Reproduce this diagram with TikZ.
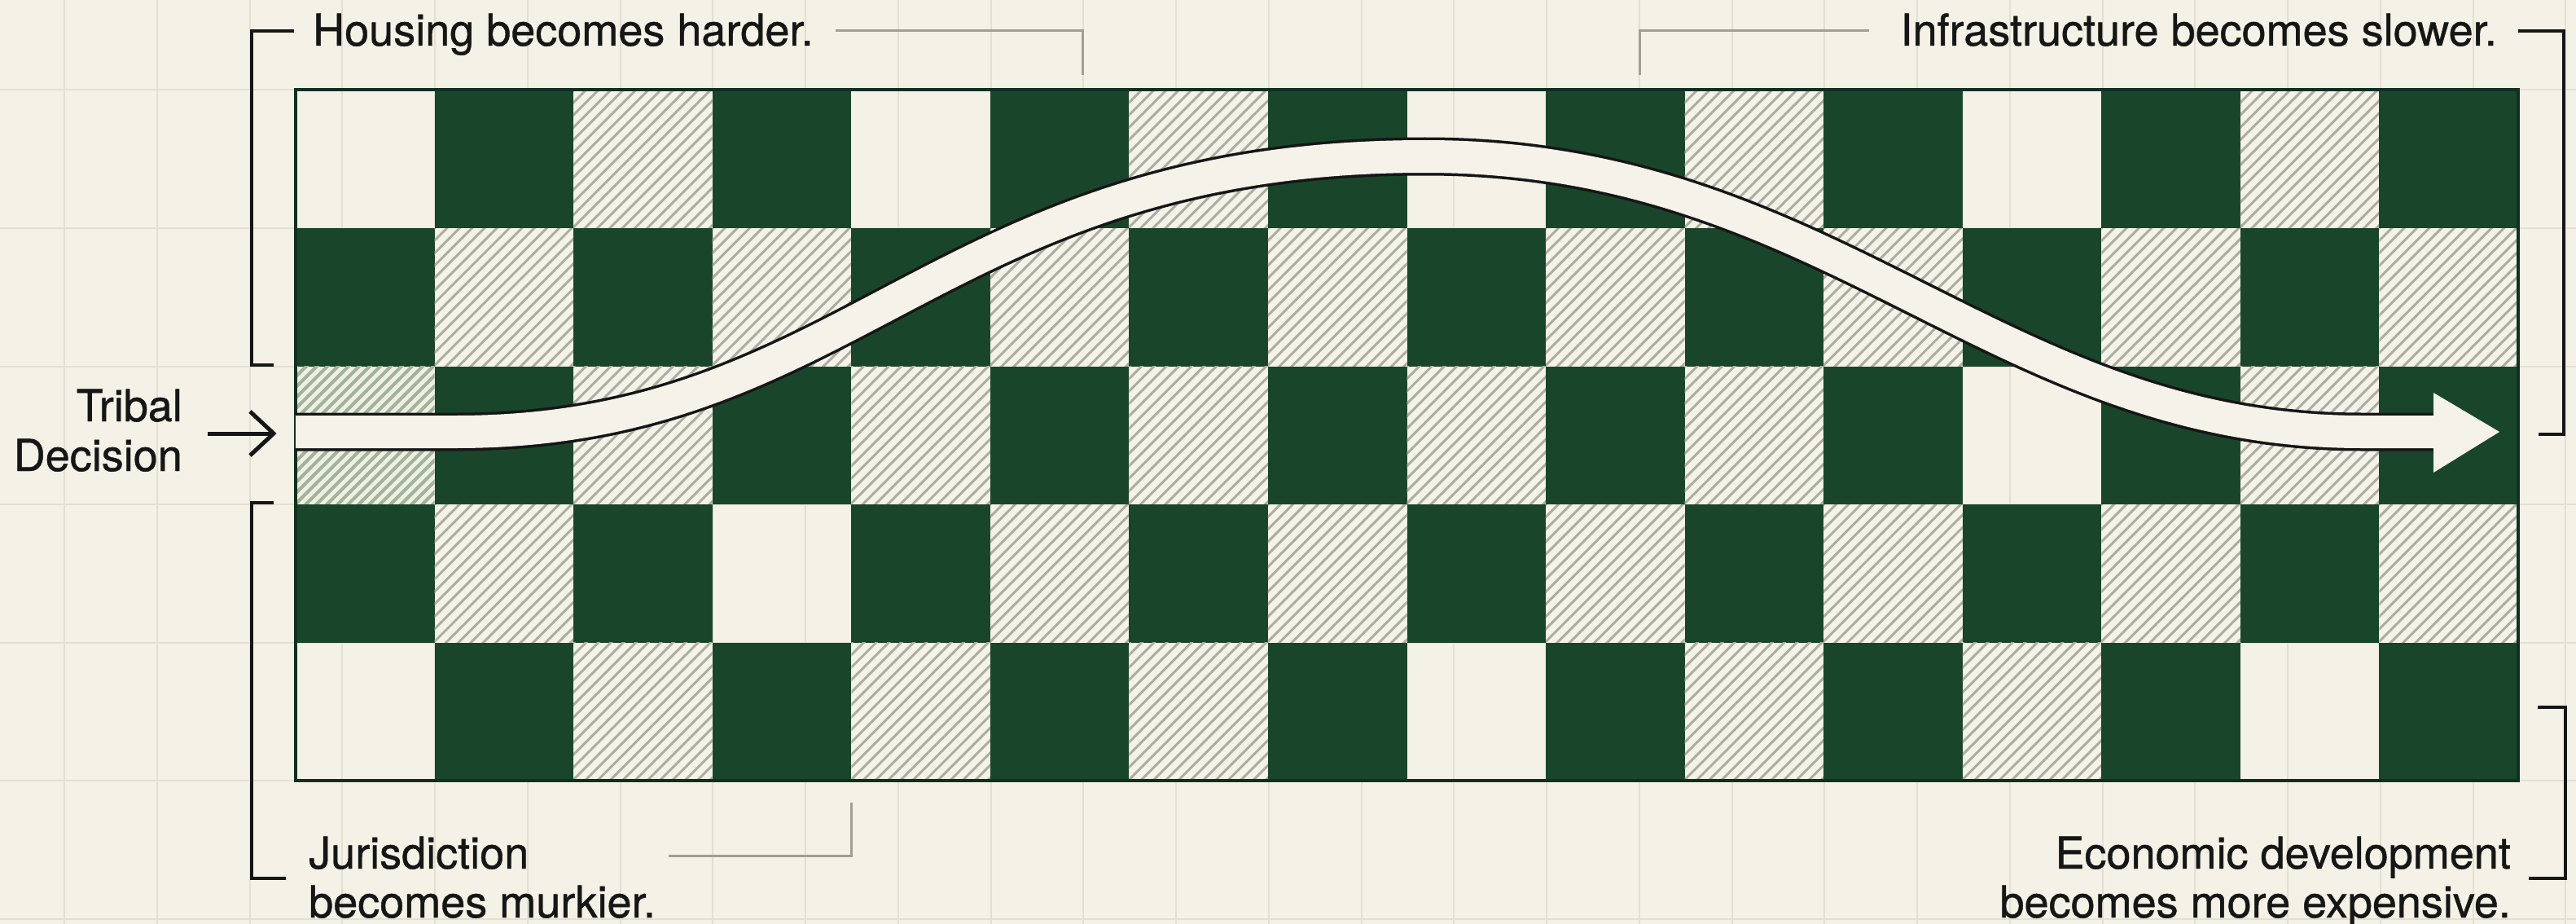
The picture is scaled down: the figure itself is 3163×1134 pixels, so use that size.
\documentclass[tikz,border=0pt]{standalone}
\usepackage{fontspec}
\setmainfont{TeX Gyre Heros}[FakeBold=0.8]
\definecolor{bgc}{HTML}{F4F1E6}
\definecolor{gridc}{HTML}{E3E0D3}
\definecolor{dkg}{HTML}{19462A}
\definecolor{dkb}{HTML}{12301F}
\definecolor{hatchc}{HTML}{ACAEA0}
\definecolor{ghatchc}{HTML}{A3B29A}
\definecolor{ink}{HTML}{161616}
\definecolor{greyline}{HTML}{A09F93}
\definecolor{cellw}{HTML}{F5F3E9}
\definecolor{cellg}{HTML}{EEF0E3}
\newcommand{\hatchbox}[6]{% x, y, stripe colour, background, spacing, line width
  \begin{scope}
    \clip (#1,#2) rectangle ++(170.5625,169.5);
    \fill[#4] (#1,#2) rectangle ++(170.5625,169.5);
    \foreach \q in {0,...,26} {
      \draw[#3, line width=#6] ({#1+\q*#5-175},{#2+175}) -- ++(185,-185);
    }
  \end{scope}}
\begin{document}
\begin{tikzpicture}[x=1pt,y=-1pt,
  lbl/.style={font=\fontsize{54}{60}\selectfont, text=ink, inner sep=0pt},
  bracket/.style={draw=ink, line width=4.5pt},
  leader/.style={draw=greyline, line width=3pt},
  gridline/.style={draw=gridc, line width=2pt},
  darkcell/.style={fill=dkg}
]
\useasboundingbox (0,0) rectangle (3163,1134);
\fill[bgc] (0,0) rectangle (3163,1134);
% background grid
\foreach \k in {0,...,27} {
  \draw[gridline] ({79+113.75*\k},0) -- ({79+113.75*\k},1134);
}
\foreach \yy in {110.5,280,449.5,619,788.5,958,1127.5} {
  \draw[gridline] (0,\yy) -- (3163,\yy);
}
% board cells: 0 white, 1 dark, 2 hatched, 3 green hatched
\foreach \row [count=\r from 0] in {
  {0,1,2,1,0,1,2,1,0,1,2,1,0,1,2,1},
  {1,2,1,2,1,2,1,2,1,2,1,2,1,2,1,2},
  {3,1,2,1,2,1,2,1,2,1,2,1,0,1,2,1},
  {1,2,1,0,1,2,1,2,1,2,1,2,1,2,1,2},
  {0,1,2,1,2,1,2,1,0,1,2,1,2,1,0,1}} {
  \foreach \t [count=\c from 0] in \row {
    \pgfmathsetmacro\X{363+170.5625*\c}
    \pgfmathsetmacro\Y{110.5+169.5*\r}
    \ifcase\t\relax
    \or \path[darkcell] (\X,\Y) rectangle ++(170.5625,169.5);
    \or \hatchbox{\X}{\Y}{hatchc}{cellw}{15.3}{3pt}
    \or \hatchbox{\X}{\Y}{ghatchc}{cellg}{13}{4pt}
    \fi
  }
}
\draw[dkb, line width=4pt] (363,110.5) rectangle (3092,958);
% the path arrow
\coordinate (aStart) at (363,530);
\coordinate (aBase) at (2992,530);
\def\arrowpath{(aStart) -- (560,530) .. controls (1050,530) and (1150,192) .. (1750,192) .. controls (2250,192) and (2450,530) .. (2900,530) -- (aBase)}
\draw[ink, line width=47pt] \arrowpath;
\draw[cellw, line width=40pt] \arrowpath;
\fill[cellw] (2988,482) -- (3069,530) -- (2988,580) -- cycle;
% labels
\node[lbl, anchor=base west] (housing) at (384,56) {Housing becomes harder.};
\node[lbl, anchor=base east] (infra) at (3066,56) {Infrastructure becomes slower.};
\node[lbl, anchor=base east] (tribalA) at (224,517) {Tribal};
\node[lbl, anchor=base east] (tribalB) at (224,578) {Decision};
\node[lbl, anchor=base west] (jurA) at (379,1066) {Jurisdiction};
\node[lbl, anchor=base west] (jurB) at (379,1126) {becomes murkier.};
\node[lbl, anchor=base east] (ecoA) at (3083,1066) {Economic development};
\node[lbl, anchor=base east] (ecoB) at (3083,1126) {becomes more expensive.};
% tribal arrow
\coordinate (tTail) at (255,532);
\coordinate (tTip) at (336,532);
\draw[ink, line width=5pt] (tTail) -- (tTip);
\draw[ink, line width=5pt, line join=miter] (307,505) -- (tTip) -- (307,559);
% brackets
\draw[bracket] (361,38) -- (309,38) -- (309,448) -- (336,448);
\draw[bracket] (336,617) -- (309,617) -- (309,1078) -- (351,1078);
\draw[bracket] (3092,38) -- (3148,38) -- (3148,533) -- (3117,533);
\draw[bracket] (3116,868) -- (3150,868) -- (3150,1078) -- (3105,1078);
% grey leaders
\draw[leader] (1026,38) -- (1329,38) -- (1329,92);
\draw[leader] (2295,38) -- (2013,38) -- (2013,92);
\draw[leader] (821,1050) -- (1045,1050) -- (1045,985);
\end{tikzpicture}
\end{document}
